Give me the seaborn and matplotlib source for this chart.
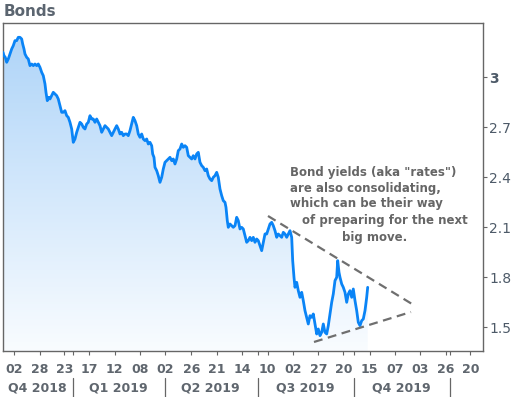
import numpy as np
import seaborn as sns
from matplotlib import pyplot as plt
from matplotlib.lines import Line2D
from matplotlib.transforms import blended_transform_factory
from matplotlib.colors import LinearSegmentedColormap

# day index (approx. calendar days from the first session) and 10y yield
days = [
    0.0, 1.0, 2.3, 3.7, 5.3, 7.0, 8.7, 10.3, 12.0, 13.7, 15.3, 17.0, 18.7, 19.7,
    21.0, 22.0, 23.7, 25.3, 27.0, 28.7, 30.3, 32.0, 33.7, 35.3, 37.0, 38.7, 40.3,
    42.0, 43.0, 44.3, 45.7, 47.0, 48.7, 50.3, 52.0, 53.7, 55.3, 57.0, 58.7, 60.3,
    62.0, 63.7, 65.3, 67.0, 68.7, 70.3, 72.0, 73.7, 75.3, 77.0, 78.7, 80.3, 82.0,
    83.7, 85.3, 87.0, 88.7, 90.3, 92.0, 93.7, 95.3, 97.0, 98.7, 100.3, 102.0,
    103.7, 105.3, 107.0, 108.7, 110.3, 112.0, 113.7, 115.3, 117.0, 118.7, 120.3,
    122.0, 123.7, 125.3, 127.0, 128.7, 130.3, 132.0, 133.7, 135.3, 137.0, 138.7,
    140.3, 142.0, 143.7, 145.3, 147.0, 148.7, 149.7, 151.0, 152.0, 153.7, 155.3,
    157.0, 158.7, 160.3, 162.0, 163.7, 165.3, 167.0, 168.7, 170.3, 172.0, 173.7,
    175.3, 177.0, 178.7, 180.3, 182.0, 183.7, 185.3, 187.0, 188.7, 190.3, 192.0,
    193.7, 195.3, 197.0, 198.7, 200.3, 202.0, 203.7, 205.3, 207.0, 208.7, 210.3,
    212.0, 213.7, 215.3, 217.0, 218.7, 220.3, 222.0, 223.0, 224.3, 225.3, 227.0,
    228.7, 230.3, 232.0, 233.7, 235.3, 237.0, 238.7, 240.3, 242.0, 243.7, 245.3,
    247.0, 248.7, 250.3, 252.0, 253.7, 255.3, 257.0, 258.7, 260.3, 262.0, 263.7,
    265.3, 267.0, 268.7, 270.3, 272.0, 273.7, 275.3, 277.0, 278.7, 280.3, 282.0,
    283.7, 285.3, 287.0, 288.7, 289.7, 291.0, 292.0, 293.7, 295.3, 297.0, 298.7,
    300.3, 302.0, 303.7, 305.3, 307.0, 308.7, 310.3, 312.0, 313.7, 315.3, 317.0,
    318.7, 320.3, 322.0, 323.7, 325.3, 327.0, 328.7, 330.3, 332.0, 333.7, 334.7,
    336.0, 337.0, 338.7, 340.3, 342.0, 343.7, 345.3, 347.0, 348.7, 350.3, 352.0,
    353.7, 355.3, 357.0, 358.7, 360.3, 362.0, 363.7, 364.7,
]
yields = [
    3.15, 3.13, 3.12, 3.09, 3.11, 3.14, 3.17, 3.19, 3.22, 3.22, 3.24, 3.24, 3.23, 3.20,
    3.17, 3.14, 3.12, 3.11, 3.07, 3.08, 3.07, 3.08, 3.07, 3.08, 3.06, 3.03, 3.01,
    2.96, 2.91, 2.86, 2.88, 2.87, 2.89, 2.91, 2.90, 2.89, 2.87, 2.83, 2.79, 2.79,
    2.80, 2.77, 2.76, 2.73, 2.69, 2.61, 2.63, 2.67, 2.70, 2.73, 2.72, 2.70, 2.69,
    2.72, 2.73, 2.77, 2.75, 2.75, 2.73, 2.75, 2.73, 2.71, 2.67, 2.69, 2.71,
    2.70, 2.69, 2.67, 2.65, 2.67, 2.69, 2.71, 2.69, 2.66, 2.67, 2.65,
    2.66, 2.66, 2.65, 2.68, 2.72, 2.76, 2.74, 2.71, 2.66, 2.64, 2.66,
    2.63, 2.62, 2.63, 2.60, 2.61, 2.59, 2.54, 2.52, 2.46, 2.44, 2.41,
    2.37, 2.40, 2.45, 2.49, 2.50, 2.51, 2.52, 2.50, 2.51, 2.48, 2.51,
    2.56, 2.57, 2.60, 2.58, 2.59, 2.58, 2.53, 2.52, 2.51, 2.53, 2.51,
    2.54, 2.55, 2.49, 2.47, 2.46, 2.44, 2.45, 2.41, 2.39, 2.38, 2.40,
    2.41, 2.43, 2.40, 2.33, 2.29, 2.26, 2.25, 2.22, 2.14, 2.10, 2.12,
    2.11, 2.10, 2.11, 2.16, 2.14, 2.09, 2.10, 2.09, 2.05, 2.01, 2.02,
    2.04, 2.02, 2.04, 2.01, 2.03, 2.02, 1.99, 1.96, 2.01, 2.06, 2.06,
    2.09, 2.12, 2.13, 2.11, 2.08, 2.04, 2.06, 2.05, 2.04, 2.07, 2.06,
    2.04, 2.06, 2.08, 2.04, 1.90, 1.80, 1.74, 1.77, 1.72, 1.68, 1.71,
    1.66, 1.60, 1.56, 1.52, 1.57, 1.56, 1.58, 1.52, 1.46, 1.49, 1.45,
    1.47, 1.52, 1.47, 1.46, 1.51, 1.58, 1.65, 1.70, 1.78, 1.80, 1.90,
    1.83, 1.80, 1.76, 1.74, 1.71, 1.65, 1.70, 1.72, 1.68, 1.73, 1.66,
    1.60, 1.53, 1.51, 1.54, 1.55, 1.60, 1.68, 1.74,
]

tick_pos = [11.3, 36.7, 61.3, 86.3, 111.7, 137.3, 161.7, 188.3, 213.7, 239.3,
            264.7, 289.7, 315.3, 340.3, 366.7, 392.3, 417.0, 442.7, 467.3]
tick_labels = ['02', '28', '23', '17', '12', '08', '02', '26', '21', '14',
               '10', '02', '27', '20', '15', '07', '03', '26', '20']
quarter_edges = [70.3, 161.7, 255.3, 351.0, 447.0]
quarter_mid = [34, 115, 207, 302, 398]
quarter_names = ['Q4 2018', 'Q1 2019', 'Q2 2019', 'Q3 2019', 'Q4 2019']

y_ticks = [1.5, 1.8, 2.1, 2.4, 2.7, 3.0]
y_labels = ['1.5', '1.8', '2.1', '2.4', '2.7', '3']

# consolidation triangle
upper_x = [265, 409]
upper_y = [2.168, 1.640]
lower_x = [311, 408]
lower_y = [1.412, 1.592]

note_lines = ['Bond yields (aka "rates")', 'are also consolidating,',
              'which can be their way', 'of preparing for the next', 'big move.']
note_x = [287, 287, 287, 299, 339]
note_y = [2.43, 2.33, 2.24, 2.14, 2.04]

XMIN, XMAX = 0, 479.7
YMIN, YMAX = 1.358, 3.326
GREY = '#5f666e'

sns.set_theme(style="white")
plt.rcParams['font.family'] = ['DejaVu Sans']

fig = plt.figure(figsize=(5.14, 3.97), dpi=100)
ax = fig.add_axes([0.0058, 0.1159, 0.9333, 0.8262])

# gradient area under the line
cmap = LinearSegmentedColormap.from_list('fill', ['#f9fcff', '#acd3f8'])
grad = np.linspace(0, 1, 256).reshape(-1, 1)
im = ax.imshow(grad, extent=[XMIN, XMAX, YMIN, YMAX], origin='lower',
               cmap=cmap, aspect='auto', zorder=1)
poly = ax.fill_between(days, yields, YMIN, color='none', lw=0)
im.set_clip_path(poly.get_paths()[0], transform=ax.transData)

sns.lineplot(x=days, y=yields, ax=ax, color='#0a84f6', lw=2.0, zorder=3)

ax.plot(upper_x, upper_y, ls=(0, (4, 2.5)), color='#6f6f6f', lw=1.6, zorder=4)
ax.plot(lower_x, lower_y, ls=(0, (4, 2.5)), color='#6f6f6f', lw=1.6, zorder=4)

for txt, tx, ty in zip(note_lines, note_x, note_y):
    ax.text(tx, ty, txt, fontsize=8.5, fontweight='bold', color='#666666',
            ha='left', va='center')

ax.set_xlim(XMIN, XMAX)
ax.set_ylim(YMIN, YMAX)

for s in ax.spines.values():
    s.set_color('#666666')
    s.set_linewidth(1.0)

ax.yaxis.tick_right()
ax.set_yticks(y_ticks)
ax.set_yticklabels(y_labels)
ax.tick_params(axis='y', right=True, length=3, width=0.8, color='#666666',
               pad=1.5, labelsize=10, labelcolor='#4d5a68')
ax.get_yticklabels()[-1].set_fontweight('bold')

ax.set_xticks(tick_pos)
ax.set_xticklabels(tick_labels)
ax.set_xticks([q for q in quarter_edges if q not in tick_pos], minor=True)
ax.tick_params(axis='x', which='both', bottom=True, length=3, width=0.8,
               color='#666666', pad=6)
ax.tick_params(axis='x', which='major', labelsize=9, labelcolor=GREY)
for lab in ax.get_xticklabels():
    lab.set_fontweight('bold')

trans = blended_transform_factory(ax.transData, ax.transAxes)
for name, xm in zip(quarter_names, quarter_mid):
    ax.text(xm, -0.113, name, transform=trans, fontsize=9, fontweight='bold',
            color=GREY, ha='center', va='center')
for xe in quarter_edges:
    ax.add_line(Line2D([xe, xe], [-0.083, -0.142], transform=trans,
                       color='#666666', lw=0.9, clip_on=False))

fig.text(4 / 514, 1 - 11 / 397, 'Bonds', fontsize=11, fontweight='bold',
         color='#5b6570', ha='left', va='center')

plt.savefig('out.png', dpi=100)
